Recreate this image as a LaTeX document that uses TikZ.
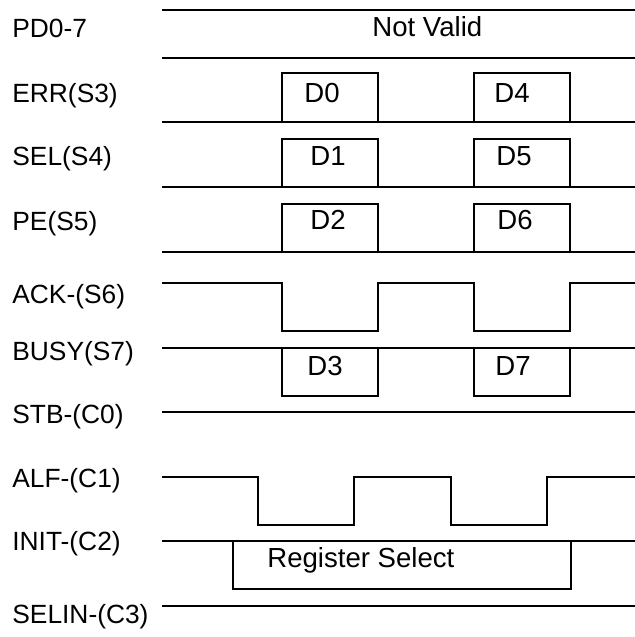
\documentclass[tikz,border=0pt]{standalone}
\usepackage{fontspec}
\setmainfont{Liberation Sans}
\usetikzlibrary{positioning}
\tikzstyle{signal} = [line width=1.1pt, line join=miter, color=black]
\tikzstyle{sigtext} = [anchor=base west, inner sep=0pt, font=\fontsize{15}{18}\selectfont]
\tikzstyle{boxtext} = [sigtext, font=\fontsize{15.7}{18}\selectfont]
\begin{document}
\begin{tikzpicture}[x=0.02cm, y=-0.02cm]
\useasboundingbox (0,0) rectangle (635,637);
% Signal names
\node (pd) [sigtext] at (12,37) {PD0-7};
\node (err) [sigtext] at (12,102) {ERR(S3)};
\node (sel) [sigtext] at (12,165) {SEL(S4)};
\node (pe) [sigtext] at (12,230) {PE(S5)};
\node (ack) [sigtext] at (12,303) {ACK-(S6)};
\node (busy) [sigtext] at (12,360) {BUSY(S7)};
\node (stb) [sigtext] at (12,423) {STB-(C0)};
\node (alf) [sigtext] at (12,487) {ALF-(C1)};
\node (init) [sigtext] at (12,550) {INIT-(C2)};
\node (selin) [sigtext] at (12,623) {SELIN-(C3)};

% Data lines
\draw[signal] (162,10) -- (635,10);
\draw[signal] (162,58) -- (635,58);
\node (notvalid) [boxtext] at (372,36) {Not Valid};

\draw[signal] (162,122) -- (635,122);
\draw[signal] (282,122) -- (282,73) -- (378,73) -- (378,122);
\draw[signal] (474,122) -- (474,73) -- (570,73) -- (570,122);
\node (d0) [boxtext] at (304,102) {D0};
\node (d4) [boxtext] at (494,102) {D4};

\draw[signal] (162,187) -- (635,187);
\draw[signal] (282,187) -- (282,139) -- (378,139) -- (378,187);
\draw[signal] (474,187) -- (474,139) -- (570,139) -- (570,187);
\node (d1) [boxtext] at (310,165) {D1};
\node (d5) [boxtext] at (496,165) {D5};

\draw[signal] (162,252) -- (635,252);
\draw[signal] (282,252) -- (282,204) -- (378,204) -- (378,252);
\draw[signal] (474,252) -- (474,204) -- (570,204) -- (570,252);
\node (d2) [boxtext] at (310,229) {D2};
\node (d6) [boxtext] at (497,229) {D6};

% Handshake
\draw[signal] (162,283) -- (282,283) -- (282,331) -- (378,331) -- (378,283)
  -- (474,283) -- (474,331) -- (570,331) -- (570,283) -- (635,283);

\draw[signal] (162,348) -- (635,348);
\draw[signal] (282,348) -- (282,396) -- (378,396) -- (378,348);
\draw[signal] (474,348) -- (474,396) -- (570,396) -- (570,348);
\node (d3) [boxtext] at (307,375) {D3};
\node (d7) [boxtext] at (495,375) {D7};

% Control lines
\draw[signal] (162,412) -- (635,412);

\draw[signal] (162,477) -- (258,477) -- (258,525) -- (354,525) -- (354,477)
  -- (451,477) -- (451,525) -- (547,525) -- (547,477) -- (635,477);

\draw[signal] (162,541) -- (635,541);
\draw[signal] (233,541) -- (233,589) -- (571,589) -- (571,541);
\node (regsel) [boxtext] at (267,567) {Register Select};

\draw[signal] (162,606) -- (635,606);
\end{tikzpicture}
\end{document}
